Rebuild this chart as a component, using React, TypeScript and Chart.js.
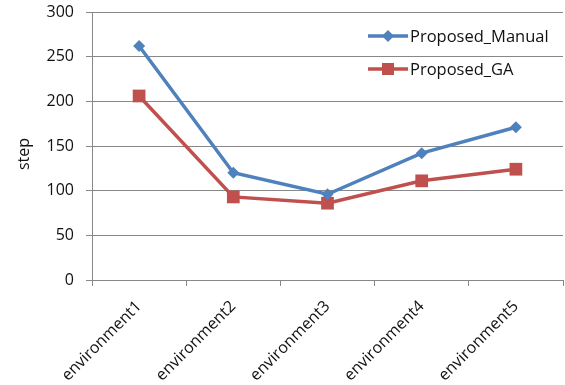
import React, { useEffect, useRef } from "react";
import { Chart, registerables } from "chart.js";

Chart.register(...registerables);

const categories = ["environment1", "environment2", "environment3", "environment4", "environment5"];
const manualSteps = [262, 120, 96, 142, 171];
const gaSteps = [206, 93, 86, 111, 124];
const yTicks = [0, 50, 100, 150, 200, 250, 300];
const yTitle = "step";

const BLUE = "#4F81BD";
const RED = "#C0504D";
const GRID = "#888888";
const TEXT = "#111";
const FONT = "'Open Sans', 'DejaVu Sans', sans-serif";

// Legend drawn as line + marker, like an office-style chart legend,
// plus the rotated y-axis title
const decorations = {
  id: "decorations",
  afterDraw(chart: any) {
    const ctx = chart.ctx;
    const items = [
      { label: "Proposed_Manual", color: BLUE, y: 36, style: "diamond" },
      { label: "Proposed_GA", color: RED, y: 69, style: "square" },
    ];
    ctx.save();
    for (const it of items) {
      ctx.strokeStyle = it.color;
      ctx.fillStyle = it.color;
      ctx.lineWidth = 3.5;
      ctx.beginPath();
      ctx.moveTo(368, it.y);
      ctx.lineTo(408, it.y);
      ctx.stroke();
      const cx = 388;
      ctx.beginPath();
      if (it.style === "diamond") {
        const r = 6;
        ctx.moveTo(cx, it.y - r);
        ctx.lineTo(cx + r, it.y);
        ctx.lineTo(cx, it.y + r);
        ctx.lineTo(cx - r, it.y);
        ctx.closePath();
      } else {
        ctx.rect(cx - 6, it.y - 6, 12, 12);
      }
      ctx.fill();
      ctx.fillStyle = TEXT;
      ctx.font = `16.5px ${FONT}`;
      ctx.textAlign = "left";
      ctx.textBaseline = "middle";
      ctx.fillText(it.label, 410, it.y + 1);
    }
    // y-axis title
    ctx.translate(24, 154);
    ctx.rotate(-Math.PI / 2);
    ctx.fillStyle = TEXT;
    ctx.font = `16px ${FONT}`;
    ctx.textAlign = "center";
    ctx.textBaseline = "middle";
    ctx.fillText(yTitle, 0, 0);
    ctx.restore();
  },
};

export default function App() {
  const canvasRef = useRef<HTMLCanvasElement | null>(null);

  useEffect(() => {
    if (!canvasRef.current) return;
    const chart = new Chart(canvasRef.current, {
      type: "line",
      data: {
        labels: categories,
        datasets: [
          {
            label: "Proposed_Manual",
            data: manualSteps,
            borderColor: BLUE,
            backgroundColor: BLUE,
            borderWidth: 3.5,
            pointStyle: "rectRot",
            pointRadius: 6,
            pointHoverRadius: 6,
            pointBorderWidth: 0,
            tension: 0,
          },
          {
            label: "Proposed_GA",
            data: gaSteps,
            borderColor: RED,
            backgroundColor: RED,
            borderWidth: 3.5,
            pointStyle: "rect",
            pointRadius: 9,
            pointHoverRadius: 9,
            pointBorderWidth: 0,
            tension: 0,
          },
        ],
      },
      options: {
        animation: false,
        responsive: false,
        layout: { autoPadding: false, padding: { top: 12, right: 2, left: 0, bottom: 0 } },
        plugins: {
          legend: { display: false },
          tooltip: { enabled: false },
        },
        scales: {
          x: {
            offset: true,
            grid: {
              offset: true,
              drawOnChartArea: false,
              color: GRID,
              tickLength: 6,
            },
            border: { color: GRID },
            ticks: {
              minRotation: 45,
              maxRotation: 45,
              color: TEXT,
              font: { family: FONT, size: 16 },
              padding: 11,
            },
            afterFit(scale: any) {
              scale.height = 105;
              scale.paddingLeft = 0;
              scale.paddingRight = 0;
            },
          },
          y: {
            min: 0,
            max: 300,
            afterBuildTicks(scale: any) {
              scale.ticks = yTicks.map((v) => ({ value: v }));
            },
            grid: { color: GRID, tickLength: 6 },
            border: { color: GRID },
            ticks: {
              color: TEXT,
              font: { family: FONT, size: 16 },
              padding: 12,
            },
            afterFit(scale: any) {
              scale.width = 92;
              scale.paddingTop = 0;
              scale.paddingBottom = 0;
            },
          },
        },
      },
      plugins: [decorations],
    });
    return () => chart.destroy();
  }, []);

  return (
    <div style={{ position: "fixed", left: 0, top: 0, width: 565, height: 385, background: "#fff" }}>
      <canvas ref={canvasRef} width={565} height={385} />
    </div>
  );
}
